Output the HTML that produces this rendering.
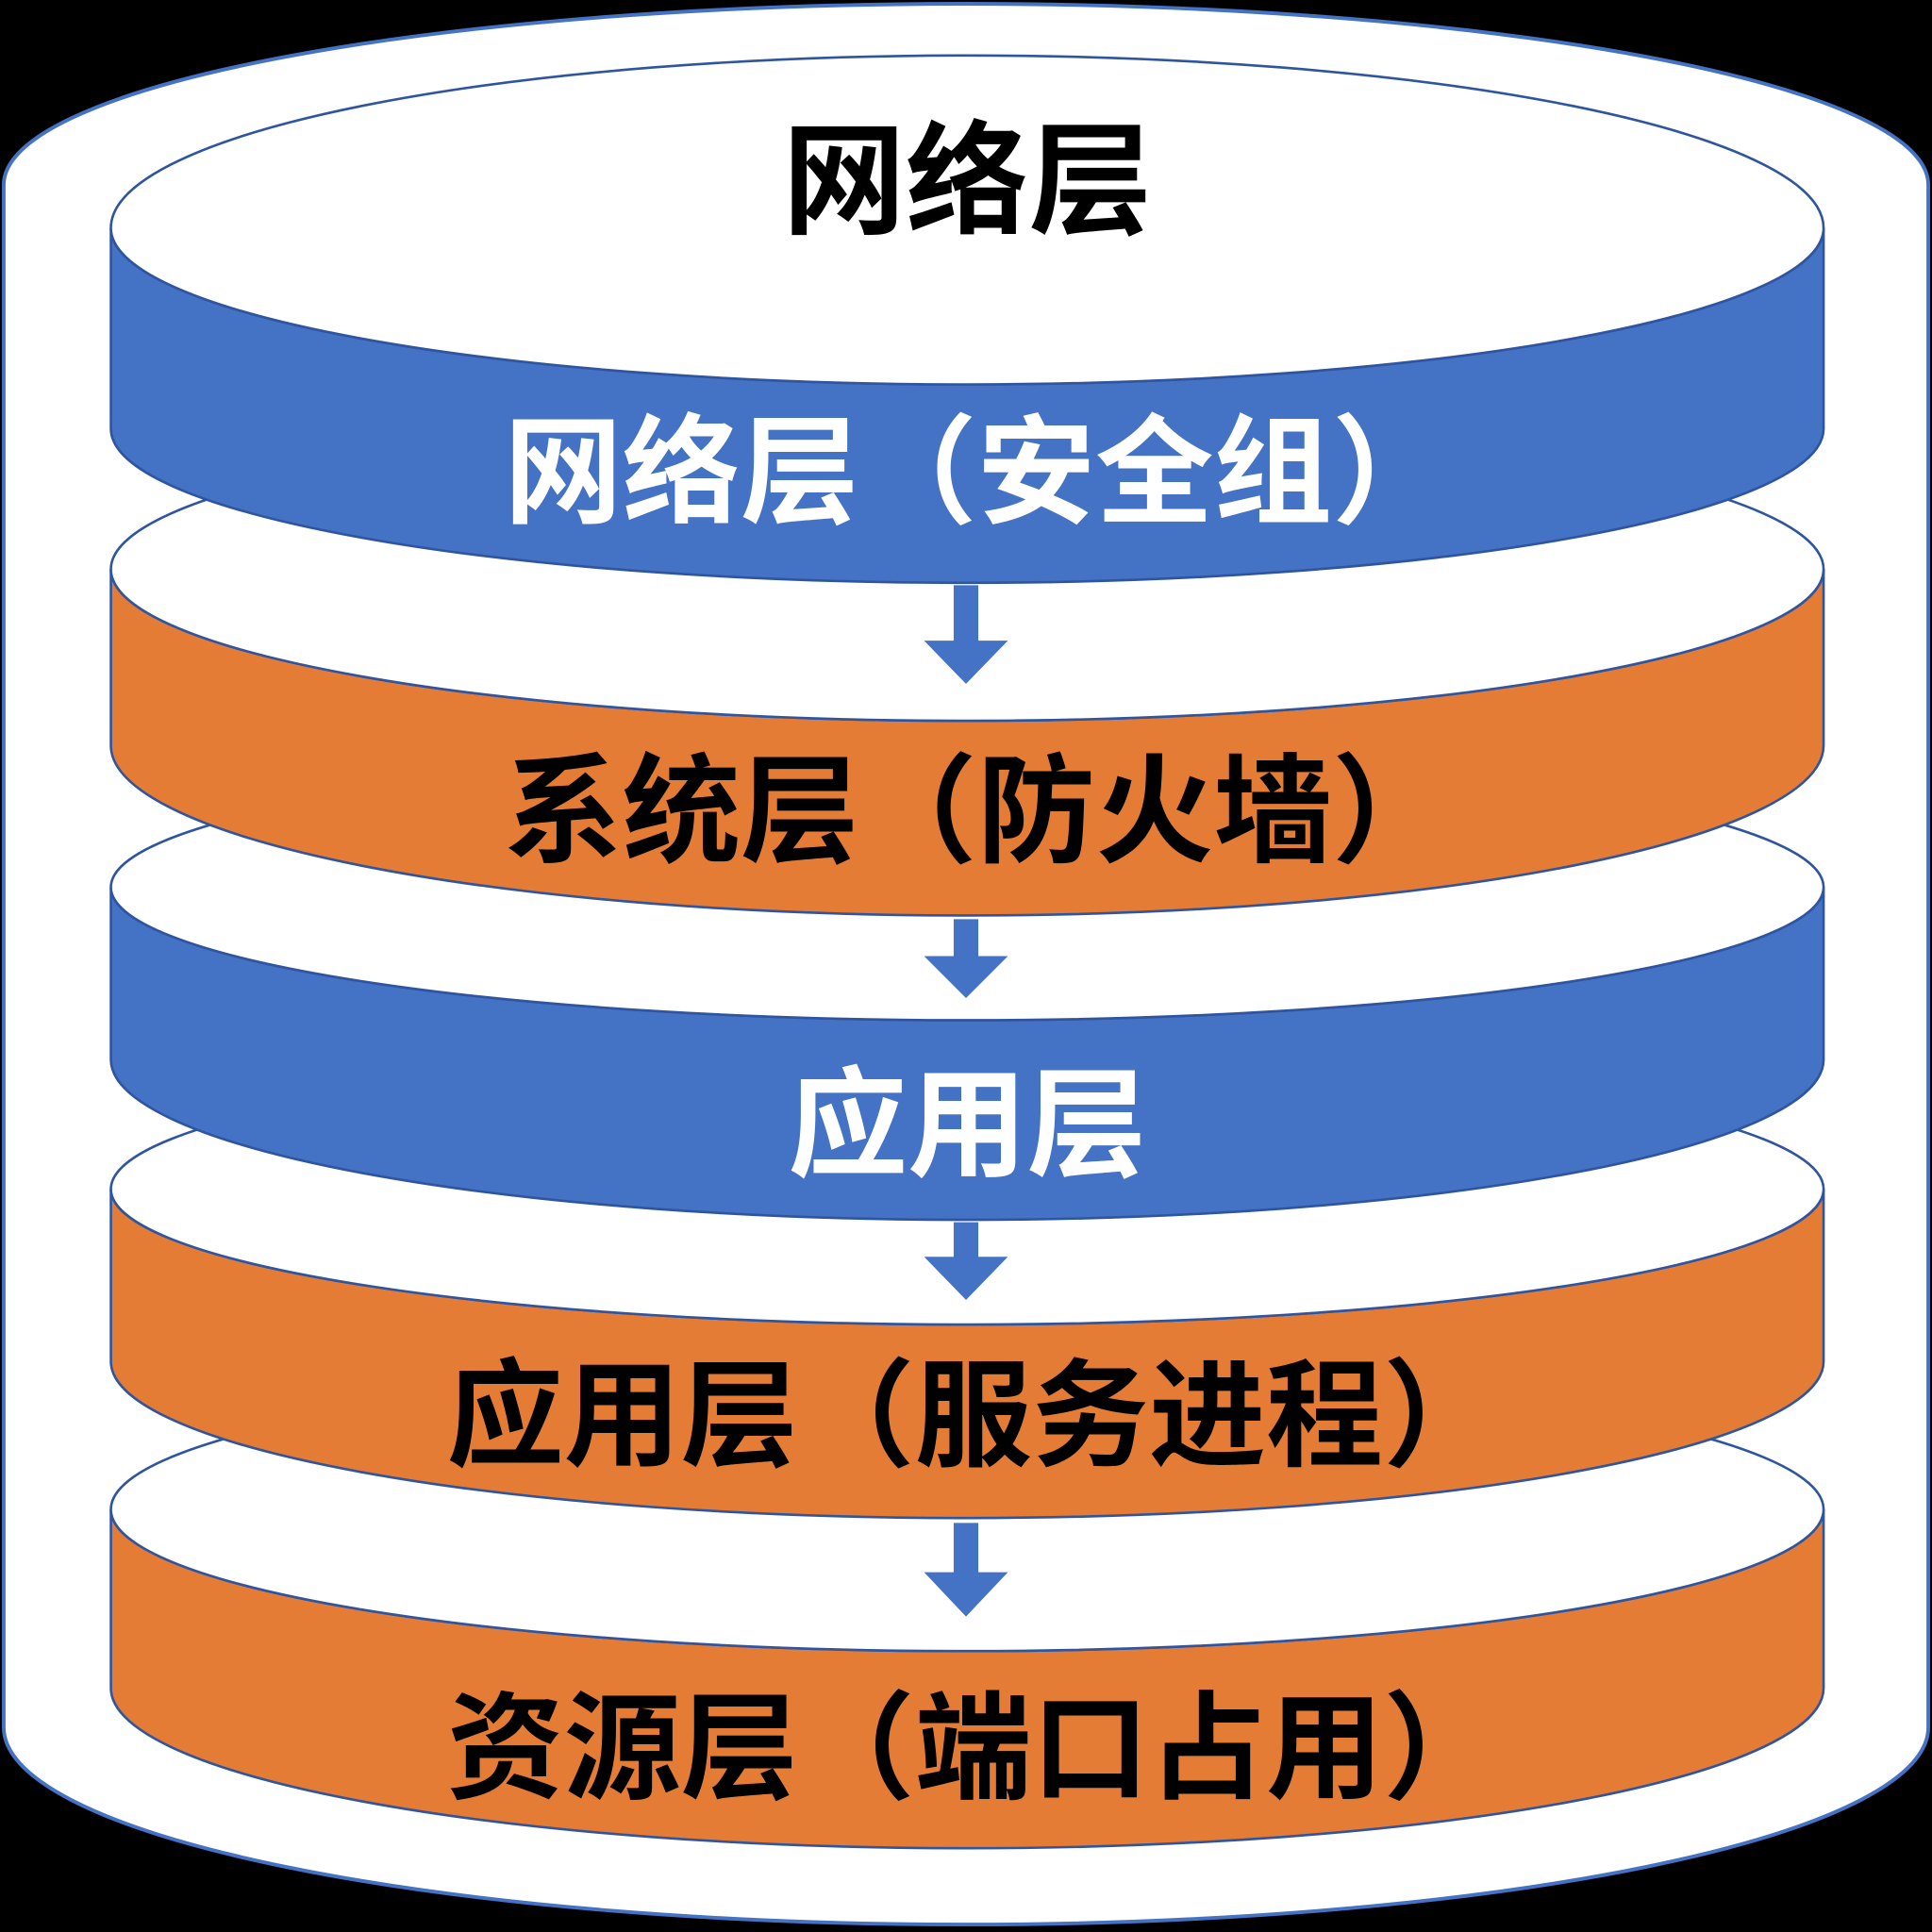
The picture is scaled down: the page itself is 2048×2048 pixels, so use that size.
<!DOCTYPE html>
<html><head><meta charset="utf-8"><style>
html,body{margin:0;padding:0;background:#000;}
svg{display:block;}
text{font-family:"Liberation Sans","Noto Sans CJK SC",sans-serif;font-weight:bold;text-anchor:middle;}
</style></head><body>
<svg width="2048" height="2048" viewBox="0 0 1568 1568" xmlns="http://www.w3.org/2000/svg">
<rect width="1568" height="1568" fill="#000"/>
<path d="M3,150 A781,147 0 0 1 1565,150 L1565,1402 A781,160 0 0 1 3,1402 Z" fill="#fff" stroke="#4472C4" stroke-width="3"/>
<g stroke="#2F55A0" stroke-width="2">
<path d="M90,1225 L90,1370 A695,130 0 0 0 1480,1370 L1480,1225 A695,115 0 0 1 90,1225 Z" fill="#E57C35"/>
<ellipse cx="785" cy="1225" rx="695" ry="115" fill="#fff"/>
<path d="M90,965 L90,1105 A695,127 0 0 0 1480,1105 L1480,965 A695,110 0 0 1 90,965 Z" fill="#E57C35"/>
<ellipse cx="785" cy="965" rx="695" ry="110" fill="#fff"/>
<path d="M90,720 L90,860 A695,130 0 0 0 1480,860 L1480,720 A695,108 0 0 1 90,720 Z" fill="#4472C4"/>
<ellipse cx="785" cy="720" rx="695" ry="108" fill="#fff"/>
<path d="M90,462 L90,605 A695,138 0 0 0 1480,605 L1480,462 A695,123 0 0 1 90,462 Z" fill="#E57C35"/>
<ellipse cx="785" cy="462" rx="695" ry="123" fill="#fff"/>
<path d="M90,185 L90,348 A695,125 0 0 0 1480,348 L1480,185 A695,127 0 0 1 90,185 Z" fill="#4472C4"/>
<path d="M90,185 A695,140 0 0 1 1480,185 A695,127 0 0 1 90,185 Z" fill="#fff"/>
</g>
<g fill="#4472C4">
<path d="M774,475 h20 v45 h24 l-34,35 l-34,-35 h24 Z"/>
<path d="M774,746 h20 v30 h24 l-34,34 l-34,-34 h24 Z"/>
<path d="M774,992 h20 v28 h24 l-34,35 l-34,-35 h24 Z"/>
<path d="M774,1236 h20 v40 h24 l-34,36 l-34,-36 h24 Z"/>
</g>
<text x="785" y="182" font-size="100" fill="#000">网络层</text>
<text x="793" y="417" font-size="96" fill="#fff">网络层（安全组）</text>
<text x="793" y="692" font-size="96" fill="#000">系统层（防火墙）</text>
<text x="785" y="947" font-size="97" fill="#fff">应用层</text>
<text x="790" y="1182" font-size="95" fill="#000">应用层（服务进程）</text>
<text x="790" y="1452" font-size="95" fill="#000">资源层（端口占用）</text>
</svg>
</body></html>
